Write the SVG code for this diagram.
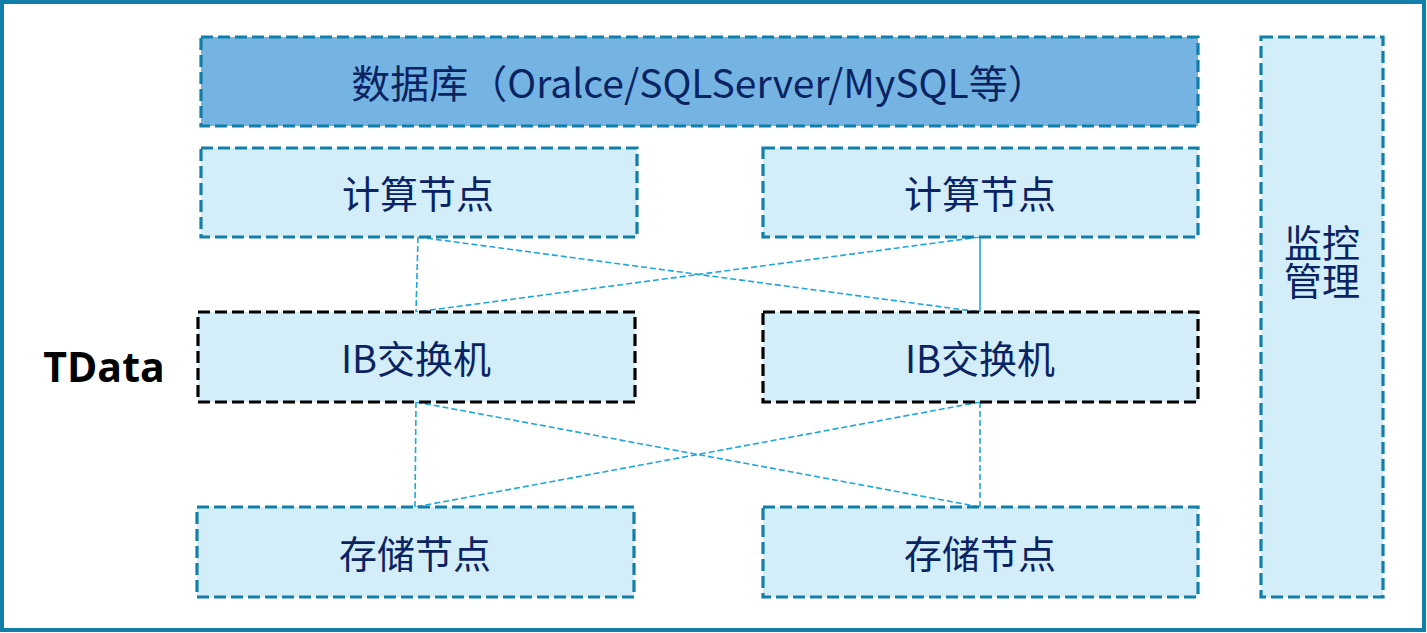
<svg xmlns="http://www.w3.org/2000/svg" width="1427" height="633" viewBox="0 0 1427 633">
<style>
.frame{fill:#FFFFFF;stroke:#127FAA;stroke-width:4}
.box{fill:#D3EEF9;stroke:#127FAA;stroke-width:3.2;stroke-dasharray:12 5}
.db{fill:#75B4E2;stroke:#127FAA;stroke-width:3.2;stroke-dasharray:12 5}
.sw{fill:#D3EEF9;stroke:#000000;stroke-width:3.2;stroke-dasharray:12 5}
.lbl{font-family:"Microsoft YaHei","Noto Sans CJK SC","Noto Sans",sans-serif;font-size:38px;fill:#0A2463;text-anchor:middle;dominant-baseline:central}
.conn{stroke:#1CA7E0;stroke-width:1.6;fill:none}
.dash{stroke-dasharray:6 3}
</style>
<rect class="frame" x="2" y="2" width="1422" height="628"/>
<g id="tdata"><text x="104" y="366" style="font-family:'Open Sans','Noto Sans',sans-serif;font-weight:bold;font-size:41px;fill:#000000" text-anchor="middle" dominant-baseline="central">TData</text></g>
<g id="connectors">
<line class="conn dash" x1="418" y1="237" x2="416" y2="312"/>
<line class="conn dash" x1="418" y1="237" x2="980" y2="312"/>
<line class="conn dash" x1="980" y1="237" x2="416" y2="312"/>
<line class="conn" x1="980" y1="237" x2="980" y2="312"/>
<line class="conn dash" x1="416" y1="402" x2="415" y2="507"/>
<line class="conn dash" x1="416" y1="402" x2="980" y2="507"/>
<line class="conn dash" x1="980" y1="402" x2="415" y2="507"/>
<line class="conn dash" x1="980" y1="402" x2="980" y2="507"/>
</g>
<g id="database"><rect class="db" x="201" y="37" width="997" height="89"/><text class="lbl" x="699" y="81" style="font-size:39px">数据库（Oralce/SQLServer/MySQL等）</text></g>
<g id="compute1"><rect class="box" x="201" y="148" width="436" height="89"/><text class="lbl" x="418" y="191">计算节点</text></g>
<g id="compute2"><rect class="box" x="763" y="148" width="435" height="89"/><text class="lbl" x="980" y="191">计算节点</text></g>
<g id="switch1"><rect class="sw" x="198" y="312" width="437" height="90"/><text class="lbl" x="416" y="356">IB交换机</text></g>
<g id="switch2"><rect class="sw" x="763" y="312" width="435" height="90"/><text class="lbl" x="980" y="356">IB交换机</text></g>
<g id="storage1"><rect class="box" x="197" y="507" width="437" height="90"/><text class="lbl" x="415" y="551">存储节点</text></g>
<g id="storage2"><rect class="box" x="763" y="507" width="435" height="90"/><text class="lbl" x="980" y="551">存储节点</text></g>
<g id="monitor"><rect class="box" x="1261" y="37" width="122" height="560"/><text class="lbl" x="1322" y="240"><tspan x="1322" y="240">监控</tspan><tspan x="1322" y="278">管理</tspan></text></g>
</svg>
